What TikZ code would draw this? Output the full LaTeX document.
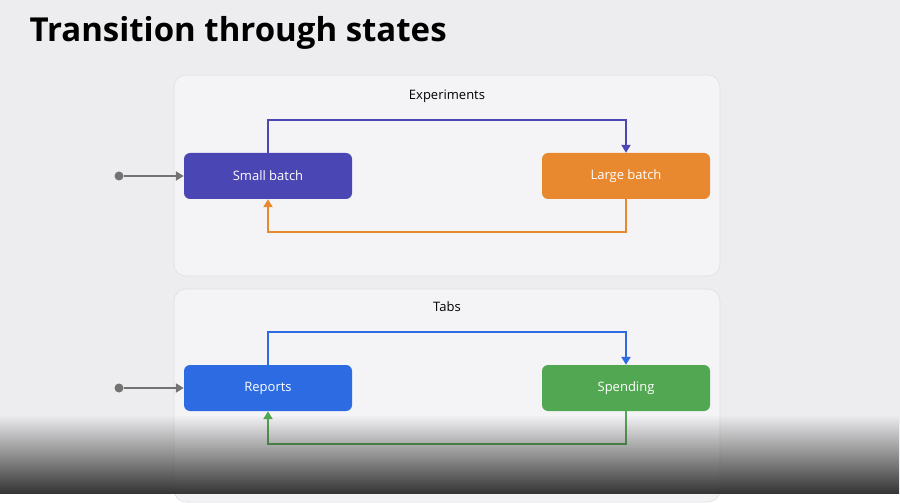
\documentclass[tikz,border=0pt]{standalone}
\usepackage{fontspec}
\setmainfont{Open Sans}
\usetikzlibrary{arrows.meta,fadings}
\definecolor{Bg}{HTML}{EDEDEF}
\definecolor{Panel}{HTML}{F4F4F6}
\definecolor{Indigo}{HTML}{4A46B4}
\definecolor{Amber}{HTML}{E9892F}
\definecolor{Azure}{HTML}{2C6BE2}
\definecolor{Leaf}{HTML}{52A852}
\tikzset{
  panel/.style={fill=Panel, draw=black!12, rounded corners=12pt, line width=.6pt},
  state/.style={fill=#1, text=white, rounded corners=6pt, minimum width=168pt,
                minimum height=46pt, font=\fontsize{13}{15}\selectfont, inner sep=0pt},
  link/.style={draw=#1, line width=2pt, -{Triangle[length=8pt,width=9pt]}},
  entry/.style={draw=black!55, line width=2pt, -{Triangle[length=8pt,width=9pt]}},
  dot/.style={circle, fill=black!55, inner sep=0pt, minimum size=9pt}
}
\begin{document}
\begin{tikzpicture}[x=1pt,y=-1pt]
  \fill[Bg] (0,0) rectangle (900,494);
  \node[anchor=west, font=\fontsize{33}{36}\selectfont\bfseries] (title) at (26,33) {Transition through states};
  % panels
  \draw[panel] (174,75) rectangle (720,276);
  \draw[panel] (174,289) rectangle (720,502);
  \node[font=\fontsize{13}{15}\selectfont] (exp) at (447,96) {Experiments};
  \node[font=\fontsize{13}{15}\selectfont] (tabs) at (447,307) {Tabs};
  % states
  \node[state=Indigo] (small) at (268,176) {Small batch};
  \node[state=Amber]  (large) at (626,176) {Large batch};
  \node[state=Azure]  (rep)   at (268,388) {Reports};
  \node[state=Leaf]   (spend) at (626,388) {Spending};
  % transitions
  \draw[link=Indigo] (small.north) -- ++(0,-33) -| (large.north);
  \draw[link=Amber]  (large.south) -- ++(0,33) -| (small.south);
  \draw[link=Azure]  (rep.north) -- ++(0,-33) -| (spend.north);
  \draw[link=Leaf]   (spend.south) -- ++(0,33) -| (rep.south);
  % entry points
  \node[dot] (s1) at (119,176) {};
  \node[dot] (s2) at (119,388) {};
  \draw[entry] (s1) -- (small.west);
  \draw[entry] (s2) -- (rep.west);
  % dark band at the bottom
  \fill[black!80, path fading=north] (0,415) rectangle (900,494);
\end{tikzpicture}
\end{document}
